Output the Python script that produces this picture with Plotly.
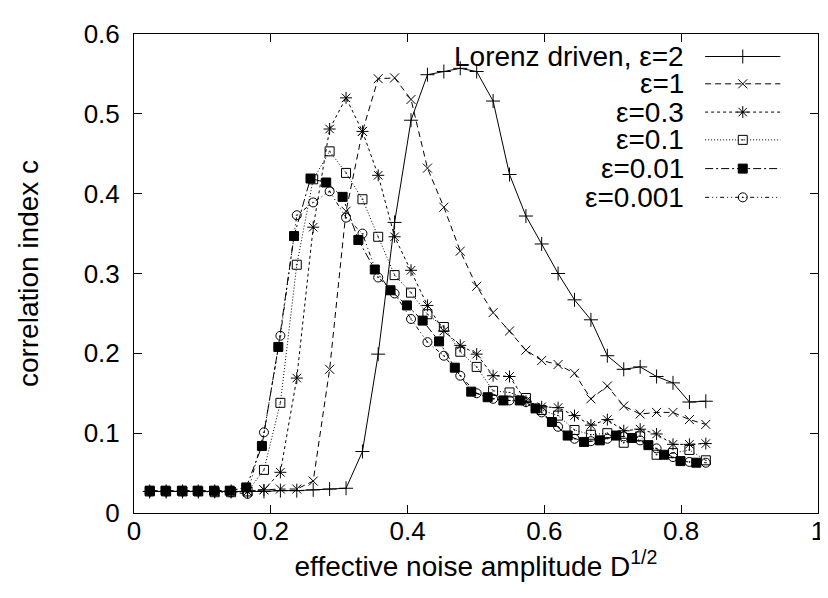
import plotly.graph_objects as go

# x positions (effective noise amplitude) -- grid shared by most series
x_main = [0.023, 0.047, 0.071, 0.094, 0.118, 0.142, 0.166, 0.190, 0.214, 0.238,
          0.262, 0.286, 0.310, 0.334, 0.357, 0.381, 0.405, 0.429, 0.453, 0.477,
          0.501, 0.525, 0.549, 0.573, 0.596, 0.620, 0.644, 0.668, 0.692, 0.716,
          0.740, 0.764, 0.788, 0.812, 0.836]
# x positions for the eps=0.01 series (slightly narrower spacing)
x_e001 = [0.023, 0.046, 0.070, 0.093, 0.117, 0.140, 0.164, 0.187, 0.211, 0.234,
          0.258, 0.281, 0.305, 0.328, 0.352, 0.375, 0.399, 0.422, 0.446, 0.469,
          0.493, 0.517, 0.540, 0.564, 0.587, 0.611, 0.634, 0.658, 0.681, 0.705,
          0.728, 0.752, 0.775, 0.799, 0.822]

c_lorenz = [0.027, 0.027, 0.027, 0.027, 0.027, 0.027, 0.027, 0.027, 0.028, 0.028,
            0.029, 0.030, 0.031, 0.077, 0.199, 0.364, 0.492, 0.549, 0.553, 0.557,
            0.553, 0.516, 0.424, 0.372, 0.337, 0.300, 0.267, 0.242, 0.197, 0.180,
            0.183, 0.171, 0.163, 0.139, 0.140]
c_eps1 = [0.027, 0.027, 0.027, 0.027, 0.027, 0.027, 0.027, 0.029, 0.030, 0.030,
          0.040, 0.180, 0.378, 0.478, 0.544, 0.545, 0.518, 0.432, 0.383, 0.328,
          0.284, 0.251, 0.228, 0.204, 0.191, 0.186, 0.175, 0.143, 0.159, 0.134,
          0.124, 0.126, 0.126, 0.117, 0.111]
c_eps03 = [0.027, 0.027, 0.027, 0.027, 0.027, 0.027, 0.027, 0.029, 0.051, 0.169,
           0.358, 0.481, 0.520, 0.478, 0.423, 0.346, 0.304, 0.260, 0.228, 0.210,
           0.199, 0.172, 0.171, 0.140, 0.133, 0.132, 0.122, 0.110, 0.117, 0.103,
           0.105, 0.099, 0.086, 0.086, 0.087]
c_eps01 = [0.027, 0.027, 0.027, 0.027, 0.026, 0.026, 0.027, 0.054, 0.138, 0.311,
           0.418, 0.453, 0.426, 0.393, 0.346, 0.298, 0.276, 0.249, 0.233, 0.202,
           0.183, 0.153, 0.151, 0.144, 0.129, 0.122, 0.104, 0.098, 0.100, 0.088,
           0.096, 0.073, 0.075, 0.079, 0.066]
c_eps001 = [0.028, 0.028, 0.028, 0.028, 0.028, 0.028, 0.032, 0.084, 0.208, 0.347,
            0.419, 0.414, 0.396, 0.342, 0.305, 0.279, 0.260, 0.241, 0.215, 0.182,
            0.152, 0.145, 0.141, 0.141, 0.131, 0.114, 0.097, 0.089, 0.091, 0.097,
            0.094, 0.085, 0.073, 0.065, 0.063]
c_eps0001 = [0.027, 0.027, 0.027, 0.027, 0.027, 0.026, 0.024, 0.101, 0.222, 0.373,
             0.389, 0.403, 0.370, 0.350, 0.295, 0.275, 0.243, 0.214, 0.197, 0.172,
             0.150, 0.143, 0.141, 0.139, 0.126, 0.108, 0.093, 0.090, 0.093, 0.096,
             0.091, 0.081, 0.070, 0.064, 0.063]

labels = ["Lorenz driven, \u03b5=2", "\u03b5=1", "\u03b5=0.3", "\u03b5=0.1",
          "\u03b5=0.01", "\u03b5=0.001"]

x_ticks = [0, 0.2, 0.4, 0.6, 0.8, 1]
x_ticktext = ["0", "0.2", "0.4", "0.6", "0.8", "1"]
y_ticks = [0, 0.1, 0.2, 0.3, 0.4, 0.5, 0.6]
y_ticktext = ["0", "0.1", "0.2", "0.3", "0.4", "0.5", "0.6"]

series = [
    (x_main, c_lorenz, "solid", "cross-thin-open", 10),
    (x_main, c_eps1, "6px,4px", "x-thin-open", 9),
    (x_main, c_eps03, "3px,3px", "asterisk-open", 10),
    (x_main, c_eps01, "1px,2px", "square-open-dot", 9),
    (x_e001, c_eps001, "8px,3px,2px,3px", "square", 9),
    (x_main, c_eps0001, "4px,3px,1px,3px,1px,3px", "circle-open-dot", 9),
]

FONT = "Liberation Sans, Arial, Helvetica, sans-serif"
TICK_SIZE = 26
TEXT_SIZE = 28
fig = go.Figure()

for (xs, ys, dash, sym, size), name in zip(series, labels):
    fig.add_trace(go.Scatter(
        x=xs, y=ys, mode="lines+markers", name=name, showlegend=False,
        line=dict(color="black", width=1, dash=dash),
        marker=dict(symbol=sym, size=size, color="black",
                    line=dict(color="black", width=1)),
    ))

# legend samples drawn on an overlay axis in [0,1] units
leg_rows = [0.953, 0.896, 0.837, 0.779, 0.719, 0.659]
for (xs, ys, dash, sym, size), name, yr in zip(series, labels, leg_rows):
    fig.add_trace(go.Scatter(
        x=[0.835, 0.945], y=[yr, yr], mode="lines", showlegend=False,
        xaxis="x2", yaxis="y2", hoverinfo="skip",
        line=dict(color="black", width=1, dash=dash)))
    fig.add_trace(go.Scatter(
        x=[0.890], y=[yr], mode="markers", showlegend=False,
        xaxis="x2", yaxis="y2", hoverinfo="skip",
        marker=dict(symbol=sym, size=size, color="black",
                    line=dict(color="black", width=1))))
    fig.add_annotation(x=0.806, y=yr, xref="paper", yref="paper", text=name,
                       showarrow=False, xanchor="right", yanchor="middle",
                       height=27, borderpad=0,
                       font=dict(family=FONT, size=TEXT_SIZE, color="black"))

axis_common = dict(showline=True, linecolor="black", linewidth=1, mirror="allticks",
                   ticks="inside", ticklen=8, tickcolor="black", showgrid=False,
                   zeroline=False, tickfont=dict(family=FONT, size=TICK_SIZE, color="black"))

fig.update_layout(
    width=828, height=598,
    margin=dict(l=126, r=11, t=19, b=93),
    plot_bgcolor="white", paper_bgcolor="white",
    font=dict(family=FONT, size=TICK_SIZE, color="black"),
    xaxis=dict(range=[0, 1], tickvals=x_ticks, ticktext=x_ticktext,
               title=dict(text="effective noise amplitude D<sup>1/2</sup>",
                          font=dict(family=FONT, size=TEXT_SIZE), standoff=6),
               ticklabelstandoff=-5, **axis_common),
    yaxis=dict(range=[0, 0.6], tickvals=y_ticks, ticktext=y_ticktext,
               title=dict(text="correlation index c",
                          font=dict(family=FONT, size=TEXT_SIZE), standoff=36),
               ticklabelstandoff=8, **axis_common),
    xaxis2=dict(range=[0, 1], overlaying="x", visible=False),
    yaxis2=dict(range=[0, 1], overlaying="y", visible=False),
)

fig.write_html("out.html")
